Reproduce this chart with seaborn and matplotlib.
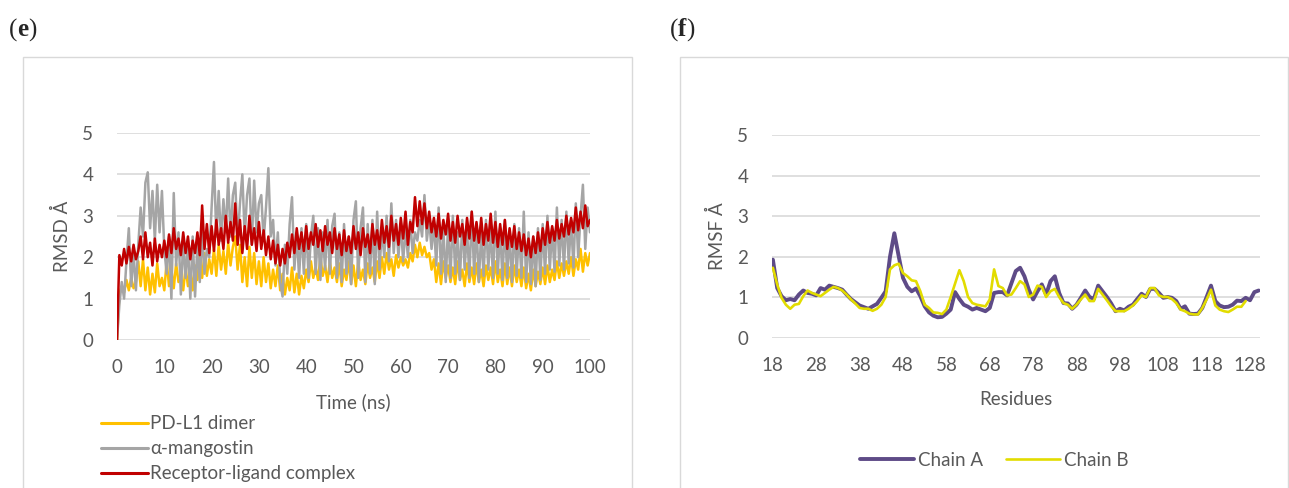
import numpy as np
import pandas as pd
import seaborn as sns
import matplotlib.pyplot as plt
from matplotlib.patches import Rectangle

time_ns = np.arange(201) * 0.5

rmsd_dimer = [
    0.0, 1.1, 1.3, 1.15, 1.45, 1.2, 1.5, 1.25, 1.4, 1.9,
    1.3, 1.95, 1.2, 1.75, 1.1, 1.6, 1.15, 1.85, 1.3, 1.5,
    1.2, 1.9, 1.3, 1.7, 1.25, 1.85, 1.4, 1.6, 1.2, 1.75,
    1.3, 1.7, 1.2, 1.8, 1.45, 2.0, 1.5, 2.1, 1.55, 1.95,
    1.6, 2.2, 1.55, 2.3, 1.7, 2.15, 1.6, 2.35, 1.8, 2.25,
    2.5, 1.7, 2.3, 1.4, 2.0, 1.3, 2.25, 1.5, 2.1, 1.35,
    1.9, 1.3, 2.0, 1.4, 1.85, 1.25, 1.7, 1.3, 1.8, 1.2,
    1.6, 1.1, 1.5, 1.2, 1.75, 1.15, 1.6, 1.1, 1.55, 1.25,
    1.7, 1.4, 1.9, 1.5, 1.75, 1.45, 2.0, 1.55, 1.8, 1.4,
    1.9, 1.5, 1.75, 1.4, 1.85, 1.3, 1.7, 1.45, 1.9, 1.35,
    1.8, 1.3, 1.9, 1.45, 1.7, 1.35, 1.85, 1.5, 1.75, 1.4,
    1.9, 1.5, 2.0, 1.6, 2.1, 1.7, 1.95, 1.55, 2.05, 1.75,
    2.0, 1.8, 1.95, 1.75, 2.1, 1.9, 2.3, 2.0, 2.35, 2.05,
    2.25, 2.0, 2.1, 1.7, 1.95, 1.4, 1.85, 1.35, 1.9, 1.5,
    1.8, 1.4, 1.75, 1.35, 1.9, 1.45, 1.7, 1.3, 1.85, 1.4,
    1.75, 1.35, 1.85, 1.4, 1.7, 1.3, 1.8, 1.45, 1.75, 1.35,
    1.9, 1.4, 1.7, 1.3, 1.85, 1.35, 1.75, 1.3, 1.8, 1.4,
    1.7, 1.3, 1.75, 1.25, 1.6, 1.2, 1.7, 1.3, 1.65, 1.35,
    1.75, 1.35, 1.8, 1.4, 1.7, 1.45, 1.9, 1.5, 1.85, 1.55,
    1.9, 1.6, 2.0, 1.55, 1.95, 1.7, 2.2, 1.65, 2.1, 1.8,
    2.1,
]

rmsd_ligand = [
    0.0, 0.85, 1.4, 1.0, 1.9, 2.7, 1.3, 2.1, 1.2, 2.3,
    3.2, 2.5, 3.8, 4.05, 2.7, 3.6, 2.4, 3.75, 2.6, 3.6,
    2.2, 1.6, 2.5, 1.0, 3.55, 1.8, 2.6, 1.1, 2.4, 1.5,
    2.3, 1.0, 2.5, 1.05, 2.3, 1.4, 2.6, 1.6, 2.2, 2.0,
    3.2, 4.3, 2.5, 3.6, 2.4, 3.4, 2.6, 3.9, 2.5, 3.5,
    3.8, 2.4, 3.3, 4.0, 2.5, 3.5, 3.9, 2.3, 3.85, 2.6,
    3.3, 3.5, 2.4, 3.2, 4.15, 2.5, 2.9, 1.8, 2.6, 1.4,
    1.05, 2.3, 1.6, 2.8, 3.45, 1.7, 2.6, 1.5, 2.7, 1.6,
    2.8, 1.5, 2.5, 3.0, 1.6, 2.7, 1.45, 2.6, 1.7, 2.9,
    1.6, 2.75, 3.05, 1.5, 2.6, 1.4, 2.8, 1.6, 2.5, 1.35,
    2.9, 3.35, 1.5, 2.7, 3.2, 1.4, 2.8, 1.6, 2.9, 1.35,
    3.1, 1.7, 2.7, 2.0, 3.0, 1.9, 3.3, 2.1, 2.9, 2.0,
    2.8, 1.9, 2.7, 2.0, 2.9, 2.1, 2.6, 2.4, 2.9, 2.5,
    3.5, 2.4, 2.9, 2.2, 2.8, 1.8, 3.2, 1.6, 2.7, 1.4,
    2.8, 1.5, 3.0, 1.6, 2.6, 1.45, 2.9, 1.7, 2.7, 1.5,
    3.1, 1.6, 2.8, 1.4, 2.6, 1.55, 2.9, 1.7, 2.7, 1.5,
    3.1, 1.6, 2.7, 1.45, 2.9, 1.5, 2.6, 1.4, 2.8, 1.55,
    2.7, 1.5, 3.1, 1.4, 2.6, 1.35, 2.5, 1.3, 2.7, 1.45,
    2.8, 1.6, 3.0, 1.7, 2.7, 1.65, 3.2, 1.8, 2.9, 1.7,
    3.1, 1.85, 2.9, 1.75, 3.3, 2.0, 3.0, 3.75, 2.2, 3.2,
    2.6,
]

rmsd_complex = [
    0.0, 2.05, 1.8, 2.2, 1.85, 2.25, 1.9, 2.3, 1.95, 2.15,
    2.5, 1.95, 2.6, 2.0, 2.35, 1.8, 2.45, 1.9, 2.3, 2.0,
    2.4, 2.0, 2.55, 2.1, 2.7, 2.2, 2.45, 2.05, 2.6, 2.1,
    2.5, 1.95, 2.4, 2.1, 2.6, 2.05, 3.25, 2.2, 2.8, 2.1,
    2.75, 2.15, 2.9, 2.3, 2.7, 2.2, 3.0, 2.35, 2.85, 2.4,
    3.3, 2.3, 2.9, 2.1, 2.75, 2.2, 3.0, 2.3, 2.7, 2.15,
    2.85, 2.2, 2.65, 2.05, 2.5, 1.95, 2.4, 1.85, 2.3, 1.8,
    2.2, 1.85, 2.35, 2.0, 2.55, 2.1, 2.7, 2.2, 2.6, 2.15,
    2.75, 2.2, 2.6, 2.3, 2.8, 2.25, 2.65, 2.15, 2.75, 2.3,
    2.6, 2.1, 2.7, 2.2, 2.55, 2.05, 2.65, 2.15, 2.5, 2.1,
    2.75, 2.2, 2.6, 2.05, 2.7, 2.25, 2.55, 2.1, 2.8, 2.3,
    2.65, 2.2, 2.9, 2.35, 2.75, 2.25, 3.0, 2.4, 2.8, 2.3,
    2.95, 2.45, 3.1, 2.3, 2.85, 2.6, 3.45, 2.75, 3.35, 2.8,
    3.3, 2.7, 3.1, 2.6, 2.95, 2.5, 3.05, 2.45, 2.9, 2.55,
    3.05, 2.4, 2.85, 2.35, 3.0, 2.5, 2.8, 2.3, 2.95, 2.45,
    3.1, 2.4, 2.85, 2.35, 2.95, 2.3, 2.8, 2.4, 3.05, 2.35,
    2.85, 2.25, 2.8, 2.3, 2.9, 2.2, 2.7, 2.25, 2.75, 2.2,
    2.6, 2.15, 2.55, 2.05, 2.45, 2.0, 2.5, 2.1, 2.6, 2.15,
    2.7, 2.3, 2.85, 2.35, 2.75, 2.4, 2.9, 2.45, 2.8, 2.5,
    3.0, 2.55, 2.95, 2.6, 3.2, 2.65, 3.1, 2.7, 3.25, 2.75,
    2.9,
]

rmsd_names = ['PD-L1 dimer', 'α-mangostin', 'Receptor-ligand complex']
rmsd_colors = ['#FFC000', '#A5A5A5', '#C00000']

# ---- panel (f): RMSF per residue
res_a = np.arange(18, 131)
rmsf_a = [
    1.93, 1.23, 1.03, 0.93, 0.96, 0.93, 1.07, 1.17, 1.11, 1.09,
    1.05, 1.23, 1.19, 1.29, 1.26, 1.23, 1.19, 1.07, 0.96, 0.88,
    0.80, 0.76, 0.72, 0.78, 0.84, 0.99, 1.15, 2.00, 2.58, 2.02,
    1.48, 1.26, 1.15, 1.22, 1.03, 0.78, 0.63, 0.55, 0.51, 0.52,
    0.60, 0.70, 1.13, 0.96, 0.82, 0.77, 0.70, 0.74, 0.70, 0.66,
    0.74, 1.11, 1.13, 1.13, 1.05, 1.35, 1.65, 1.73, 1.52, 1.19,
    0.95, 1.15, 1.32, 1.07, 1.40, 1.52, 1.11, 0.86, 0.85, 0.72,
    0.82, 0.99, 1.17, 1.01, 0.96, 1.29, 1.15, 1.01, 0.85, 0.66,
    0.72, 0.68, 0.77, 0.82, 0.96, 1.09, 1.01, 1.21, 1.21, 1.11,
    0.99, 1.01, 0.99, 0.91, 0.72, 0.78, 0.60, 0.59, 0.60, 0.74,
    1.01, 1.29, 0.91, 0.80, 0.76, 0.77, 0.82, 0.92, 0.91, 0.99,
    0.93, 1.13, 1.17,
]
res_b = np.arange(18, 128)
rmsf_b = [
    1.73, 1.32, 0.99, 0.82, 0.72, 0.82, 0.84, 1.03, 1.17, 1.11,
    1.07, 1.03, 1.11, 1.19, 1.26, 1.23, 1.17, 1.07, 0.95, 0.85,
    0.74, 0.72, 0.72, 0.67, 0.72, 0.82, 1.01, 1.69, 1.79, 1.83,
    1.60, 1.52, 1.42, 1.40, 1.15, 0.82, 0.74, 0.63, 0.62, 0.59,
    0.70, 1.01, 1.34, 1.67, 1.40, 1.01, 0.86, 0.82, 0.80, 0.78,
    0.95, 1.69, 1.28, 1.23, 1.05, 1.07, 1.23, 1.40, 1.32, 1.01,
    1.07, 1.29, 1.26, 1.01, 1.15, 1.21, 1.01, 0.86, 0.82, 0.72,
    0.82, 0.95, 1.07, 0.91, 0.91, 1.21, 1.07, 0.93, 0.78, 0.66,
    0.66, 0.66, 0.72, 0.80, 0.91, 1.05, 1.01, 1.23, 1.23, 1.05,
    1.01, 1.01, 0.96, 0.86, 0.70, 0.66, 0.60, 0.58, 0.58, 0.74,
    0.95, 1.19, 0.80, 0.70, 0.66, 0.64, 0.70, 0.77, 0.77, 0.91,
]
res_ticks = list(range(18, 129, 10))

sns.set_style('white')
plt.rcParams['font.family'] = ['Lato', 'DejaVu Sans']
txt = '#595959'
grid = '#D9D9D9'
fs = 13.5

W, H = 1289, 488
fig = plt.figure(figsize=(W / 100, H / 100), dpi=100)

def fx(px):
    return px / W

def fy(py):
    return 1 - py / H

# chart-area borders
fig.add_artist(Rectangle((fx(23), -0.05), fx(632 - 23), fy(57) + 0.05, transform=fig.transFigure,
                         fill=False, edgecolor=grid, linewidth=1))
fig.add_artist(Rectangle((fx(680), -0.05), fx(1288 - 680), fy(57) + 0.05, transform=fig.transFigure,
                         fill=False, edgecolor=grid, linewidth=1))
for px, lab in [(9, 'e'), (670, 'f')]:
    fig.text(fx(px), fy(30), '(', fontsize=18, family='Liberation Serif', va='center')
    fig.text(fx(px + 8), fy(30), lab, fontsize=18, fontweight='bold', family='Liberation Serif', va='center')
    fig.text(fx(px + 8 + (11 if lab == 'e' else 8)), fy(30), ')', fontsize=18,
             family='Liberation Serif', va='center')


def style_axes(ax):
    for s in ax.spines.values():
        s.set_visible(False)
    ax.set_ylim(0, 5)
    ax.set_yticks(range(0, 6))
    ax.yaxis.grid(True, color=grid, linewidth=1.2)
    ax.set_axisbelow(True)
    ax.tick_params(length=0, labelsize=fs, colors=txt)
    ax.tick_params(axis='y', pad=17)
    ax.tick_params(axis='x', pad=14)


# ---- (e)
df_e = pd.concat([
    pd.DataFrame({'Time': time_ns, 'RMSD': vals, 'Serie': name})
    for name, vals in zip(rmsd_names, [rmsd_dimer, rmsd_ligand, rmsd_complex])
])
ax1 = fig.add_axes([fx(117), fy(340), fx(590 - 117), fy(133) - fy(340)])
sns.lineplot(data=df_e, x='Time', y='RMSD', hue='Serie', hue_order=rmsd_names,
             palette=rmsd_colors, estimator=None, linewidth=1.8, ax=ax1)
style_axes(ax1)
ax1.set_xlim(0, 100)
ax1.set_xticks(range(0, 101, 10))
ax1.set_xlabel('Time (ns)', fontsize=fs, color=txt, labelpad=12)
ax1.set_ylabel('RMSD Å', fontsize=fs, color=txt, labelpad=8)
h, l = ax1.get_legend_handles_labels()
ax1.get_legend().remove()
for hh in h:
    hh.set_linewidth(2.2)
fig.legend(h, l, loc='upper left', bbox_to_anchor=(fx(92), fy(406)), frameon=False,
           fontsize=fs, labelcolor=txt, borderpad=0, handlelength=2.5,
           handletextpad=0.1, labelspacing=0.42)

# ---- (f)
ax2 = fig.add_axes([fx(772), fy(338), fx(1260 - 772), fy(135) - fy(338)])
sns.lineplot(x=res_a, y=rmsf_a, color='#5E4B87', linewidth=2.8, label='Chain A', ax=ax2)
sns.lineplot(x=res_b, y=rmsf_b, color='#E2DC00', linewidth=1.9, label='Chain B', ax=ax2)
style_axes(ax2)
ax2.set_xlim(17.8, 130.3)
ax2.set_xticks(res_ticks)
ax2.set_xlabel('Residues', fontsize=fs, color=txt, labelpad=12)
ax2.set_ylabel('RMSF Å', fontsize=fs, color=txt, labelpad=8)
h, l = ax2.get_legend_handles_labels()
ax2.get_legend().remove()
fig.legend(h, l, loc='center', bbox_to_anchor=(fx(994), fy(460)), ncol=2, frameon=False,
           fontsize=fs, labelcolor=txt, handlelength=2.9, handletextpad=0.2,
           columnspacing=1.2)

fig.savefig('out.png', dpi=100)
